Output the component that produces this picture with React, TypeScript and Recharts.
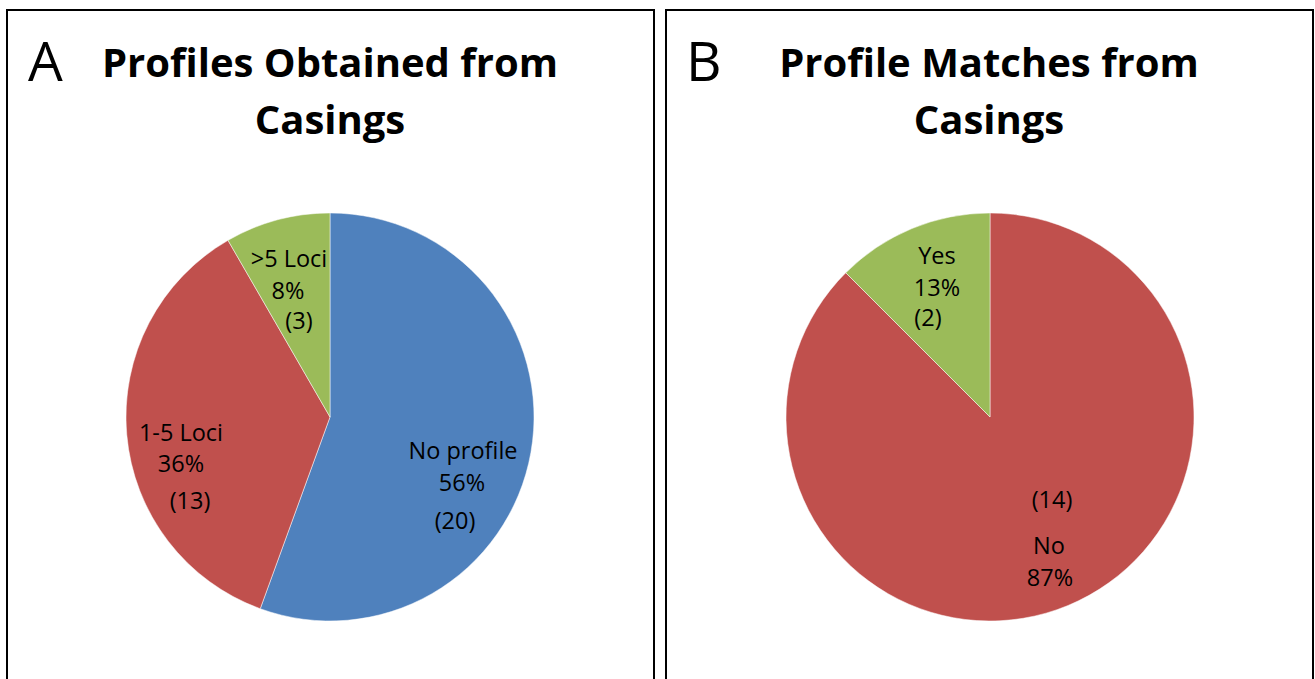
import React from 'react';
import { PieChart, Pie, Cell } from 'recharts';

// ---- Data ----
const profileCategories = ['No profile', '1-5 Loci', '>5 Loci'];
const profileCounts = [20, 13, 3];
const profilePctLabels = ['56%', '36%', '8%'];

const matchCategories = ['No', 'Yes'];
const matchCounts = [14, 2];
const matchPctLabels = ['87%', '13%'];

// ---- Styles ----
const profileColors = ['#4F81BD', '#C0504D', '#9BBB59'];
const matchColors = ['#C0504D', '#9BBB59'];
const FONT = "'Open Sans', 'Liberation Sans', sans-serif";

const profileData = profileCategories.map((name, i) => ({
  name,
  value: profileCounts[i],
  pct: profilePctLabels[i],
}));
const matchData = matchCategories.map((name, i) => ({
  name,
  value: matchCounts[i],
  pct: matchPctLabels[i],
}));

// label line layout: [kind, dx, dy] relative to pie centre
type Line = [string, number, number];
const profileLabelLayout: Line[][] = [
  [['name', 133, 33], ['pct', 132, 65], ['count', 125, 103]],
  [['name', -149, 15], ['pct', -149, 46], ['count', -140, 83]],
  [['name', -41, -159], ['pct', -42, -127], ['count', -31, -97]],
];
const matchLabelLayout: Line[][] = [
  [['count', 62, 82], ['name', 59, 128], ['pct', 60, 160]],
  [['name', -53, -162], ['pct', -53, -130], ['count', -62, -100]],
];

const PIE_A = { cx: 330, cy: 417 };
const PIE_B = { cx: 990, cy: 417 };

function makeLabel(layout: Line[][], data: any[], center: { cx: number; cy: number }) {
  return (props: any) => {
    const cx = typeof props.cx === 'number' ? props.cx : center.cx;
    const cy = typeof props.cy === 'number' ? props.cy : center.cy;
    const index = props.index;
    const d = data[index];
    return (
      <g>
        {layout[index].map(([kind, dx, dy], k) => {
          const txt = kind === 'name' ? d.name : kind === 'pct' ? d.pct : `(${d.value})`;
          return (
            <text
              key={k}
              x={cx + dx}
              y={cy + dy}
              textAnchor="middle"
              dominantBaseline="central"
              fill="#000"
              fontSize={23.5}
              fontFamily={FONT}
            >
              {txt}
            </text>
          );
        })}
      </g>
    );
  };
}

const panelStyle = (left: number): React.CSSProperties => ({
  position: 'absolute',
  left,
  top: 9,
  width: 649,
  height: 720,
  border: '2px solid #000',
  boxSizing: 'border-box',
});

export default function App() {
  return (
    <div
      style={{
        position: 'absolute',
        left: 0,
        top: 0,
        width: 1315,
        height: 679,
        background: '#fff',
        overflow: 'hidden',
      }}
    >
      <div style={panelStyle(6)} />
      <div style={panelStyle(665)} />
      <div style={{ position: 'absolute', left: 0, top: 0 }}>
        <PieChart width={1315} height={679} margin={{ top: 0, right: 0, bottom: 0, left: 0 }}>
          <Pie
            data={profileData}
            dataKey="value"
            nameKey="name"
            cx={PIE_A.cx}
            cy={PIE_A.cy}
            outerRadius={204}
            startAngle={90}
            endAngle={-270}
            stroke="#ffffff"
            strokeWidth={0.5}
            labelLine={false}
            label={makeLabel(profileLabelLayout, profileData, PIE_A)}
            isAnimationActive={false}
          >
            {profileData.map((d, i) => (
              <Cell key={d.name} fill={profileColors[i]} />
            ))}
          </Pie>
          <Pie
            data={matchData}
            dataKey="value"
            nameKey="name"
            cx={PIE_B.cx}
            cy={PIE_B.cy}
            outerRadius={204}
            startAngle={90}
            endAngle={-270}
            stroke="#ffffff"
            strokeWidth={0.5}
            labelLine={false}
            label={makeLabel(matchLabelLayout, matchData, PIE_B)}
            isAnimationActive={false}
          >
            {matchData.map((d, i) => (
              <Cell key={d.name} fill={matchColors[i]} />
            ))}
          </Pie>
        </PieChart>
      </div>
      <svg
        width={1315}
        height={679}
        style={{ position: 'absolute', left: 0, top: 0, pointerEvents: 'none' }}
      >
        <text x={28} y={81} fontFamily={FONT} fontWeight={400} fontSize={55} fill="#000">A</text>
        <text x={330} y={77} textAnchor="middle" fontFamily={FONT} fontWeight={700} fontSize={40} fill="#000">
          Profiles Obtained from
        </text>
        <text x={330} y={134} textAnchor="middle" fontFamily={FONT} fontWeight={700} fontSize={40} fill="#000">
          Casings
        </text>
        <text x={686} y={81} fontFamily={FONT} fontWeight={400} fontSize={55} fill="#000">B</text>
        <text x={989} y={77} textAnchor="middle" fontFamily={FONT} fontWeight={700} fontSize={40} fill="#000">
          Profile Matches from
        </text>
        <text x={989} y={134} textAnchor="middle" fontFamily={FONT} fontWeight={700} fontSize={40} fill="#000">
          Casings
        </text>
      </svg>
    </div>
  );
}
